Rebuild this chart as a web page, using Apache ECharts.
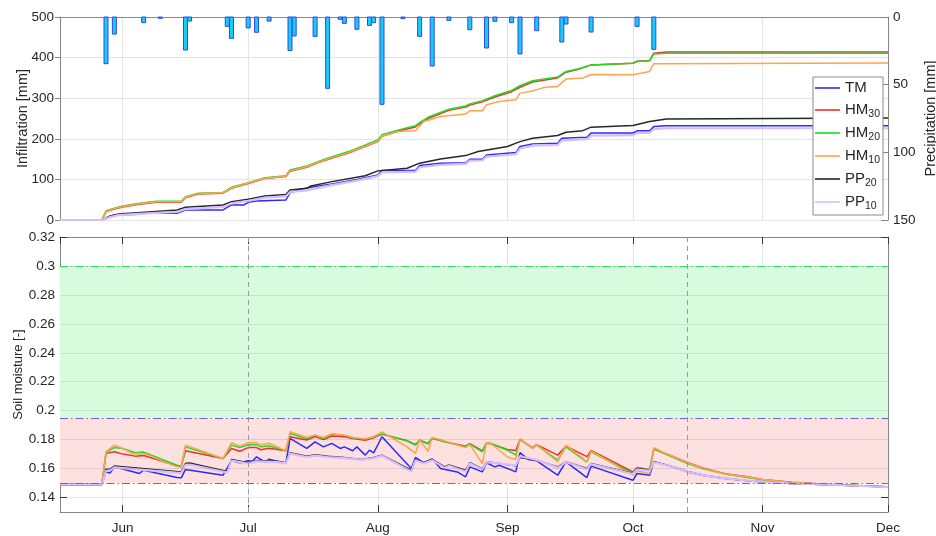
<!DOCTYPE html>
<html>
<head>
<meta charset="utf-8">
<script src="https://cdn.jsdelivr.net/npm/echarts@6/dist/echarts.min.js"></script>
<style>
  html, body { margin: 0; padding: 0; background: #fff; }
  #chart { width: 936px; height: 536px; }
</style>
</head>
<body>
<div id="chart"></div>
<script>
// ---- time range and tick values ----
const xStart = '2019-05-17';
const xEnd = '2019-12-01';
const monthNames = ['Jan','Feb','Mar','Apr','May','Jun','Jul','Aug','Sep','Oct','Nov','Dec'];
const infilTicks = [0, 100, 200, 300, 400, 500];
const precipTicks = [0, 50, 100, 150];
const moistureTicks = [0.14, 0.16, 0.18, 0.2, 0.22, 0.24, 0.26, 0.28, 0.3, 0.32];
const markerDates = ['2019-07-01', '2019-10-14'];
const greenZone = [0.195, 0.3];
const redZone = [0.15, 0.195];
const thresholdLevels = [0.3, 0.195, 0.15];

// ---- daily precipitation [mm] ----
const precipDates = ['2019-05-28','2019-05-30','2019-06-06','2019-06-10','2019-06-16','2019-06-17',
  '2019-06-26','2019-06-27','2019-07-01','2019-07-03','2019-07-06','2019-07-11','2019-07-12',
  '2019-07-17','2019-07-20','2019-07-23','2019-07-24','2019-07-27','2019-07-30','2019-07-31',
  '2019-08-02','2019-08-07','2019-08-11','2019-08-14','2019-08-18','2019-08-23','2019-08-27',
  '2019-08-29','2019-09-02','2019-09-04','2019-09-08','2019-09-14','2019-09-15','2019-09-21',
  '2019-10-02','2019-10-06'];
const precipMm = [34.5,12.6,4.2,1.0,24.4,3.0,6.9,15.8,8.1,11.3,3.0,24.8,14.0,14.3,52.7,1.7,4.7,9.1,
  6.2,4.2,64.5,1.2,14.3,36.2,2.5,9.4,22.9,3.2,4.2,27.3,10.1,18.5,5.2,11.1,6.9,23.9];

// ---- cumulative infiltration [mm] ----
const infilTM = [['2019-05-17',0],['2019-05-27',0],['2019-05-29',8],['2019-05-30',12.3],['2019-06-05',14],
  ['2019-06-06',16.4],['2019-06-14',16.4],['2019-06-16',24.7],['2019-06-25',24.7],['2019-06-27',37],
  ['2019-06-30',37],['2019-07-01',43.6],['2019-07-03',47],['2019-07-10',49],['2019-07-11',67],
  ['2019-07-13',74],['2019-07-16',80.6],['2019-07-21',89],['2019-07-27',100],['2019-08-01',111],
  ['2019-08-02',121.7],['2019-08-10',121.7],['2019-08-11',134],['2019-08-16',140],['2019-08-22',141],
  ['2019-08-23',149.7],['2019-08-26',149.7],['2019-08-27',160],['2019-09-03',166],['2019-09-04',181],
  ['2019-09-07',187.5],['2019-09-13',189],['2019-09-14',201.5],['2019-09-20',204],['2019-09-21',214],
  ['2019-10-01',214],['2019-10-02',219.6],['2019-10-05',219.6],['2019-10-06',230],['2019-10-09',232],
  ['2019-12-01',232]];
const infilHM30 = [['2019-05-17',0],['2019-05-27',0],['2019-05-28',20],['2019-05-30',27],['2019-06-01',32],
  ['2019-06-05',39],['2019-06-09',44],['2019-06-15',44],['2019-06-16',55],['2019-06-19',64],
  ['2019-06-25',66],['2019-06-27',78],['2019-07-01',90],['2019-07-05',102],['2019-07-10',107],
  ['2019-07-11',120],['2019-07-15',130],['2019-07-18',142],['2019-07-20',149],['2019-07-25',165],
  ['2019-08-01',193],['2019-08-02',206],['2019-08-06',219],['2019-08-10',229],['2019-08-11',237],
  ['2019-08-13',250],['2019-08-18',270],['2019-08-22',278],['2019-08-23',283],['2019-08-26',291],
  ['2019-08-29',303],['2019-09-02',316],['2019-09-04',327],['2019-09-07',340],['2019-09-13',350],
  ['2019-09-15',364],['2019-09-18',371],['2019-09-21',382],['2019-10-01',386],['2019-10-02',391],
  ['2019-10-05',393],['2019-10-06',411],['2019-10-09',414],['2019-12-01',414]];
const infilHM20 = [['2019-05-17',0],['2019-05-27',0],['2019-05-28',23],['2019-05-30',29],['2019-06-01',34.5],
  ['2019-06-05',41],['2019-06-09',46],['2019-06-15',46],['2019-06-16',57.5],['2019-06-19',66],
  ['2019-06-25',68],['2019-06-27',80.6],['2019-07-01',92],['2019-07-05',104],['2019-07-10',109],
  ['2019-07-11',123],['2019-07-15',133],['2019-07-18',145],['2019-07-20',152],['2019-07-25',168.5],
  ['2019-08-01',197],['2019-08-02',210],['2019-08-06',222],['2019-08-10',232],['2019-08-11',240],
  ['2019-08-13',253],['2019-08-18',273],['2019-08-22',281],['2019-08-23',286],['2019-08-26',294],
  ['2019-08-29',306],['2019-09-02',319],['2019-09-04',330.6],['2019-09-07',343],['2019-09-13',352],
  ['2019-09-15',366],['2019-09-18',372.5],['2019-09-21',382],['2019-10-01',386],['2019-10-02',390.5],
  ['2019-10-05',392],['2019-10-06',409],['2019-10-09',411],['2019-12-01',411]];
const infilHM10 = [['2019-05-17',0],['2019-05-27',0],['2019-05-28',21],['2019-05-30',28],['2019-06-01',33],
  ['2019-06-05',40],['2019-06-09',45],['2019-06-15',45],['2019-06-16',56],['2019-06-19',65],
  ['2019-06-25',67],['2019-06-27',79],['2019-07-01',91],['2019-07-05',103],['2019-07-10',108],
  ['2019-07-11',121],['2019-07-15',131],['2019-07-18',143],['2019-07-20',150],['2019-07-25',166],
  ['2019-08-01',194],['2019-08-02',207],['2019-08-06',218],['2019-08-10',219.6],['2019-08-12',242.5],
  ['2019-08-16',255],['2019-08-22',261],['2019-08-23',269],['2019-08-26',269],['2019-08-27',284],
  ['2019-08-30',292],['2019-09-03',296],['2019-09-04',312.5],['2019-09-07',318],['2019-09-10',327],
  ['2019-09-13',329],['2019-09-15',347],['2019-09-19',349.6],['2019-09-21',358.5],['2019-10-01',357.7],
  ['2019-10-05',366],['2019-10-06',385],['2019-12-01',386.6]];
const infilPP20 = [['2019-05-17',0],['2019-05-27',0],['2019-05-29',9.9],['2019-05-31',14.8],['2019-06-08',20.5],
  ['2019-06-14',24.7],['2019-06-16',31.3],['2019-06-25',37],['2019-06-27',45],['2019-07-01',51],
  ['2019-07-05',59],['2019-07-10',63],['2019-07-11',74],['2019-07-15',78],['2019-07-16',84],
  ['2019-07-21',94.5],['2019-07-29',109],['2019-08-01',121],['2019-08-08',127.5],['2019-08-11',140],
  ['2019-08-16',150.5],['2019-08-22',158.6],['2019-08-25',168.5],['2019-09-01',181],['2019-09-04',193],
  ['2019-09-07',201.5],['2019-09-13',208],['2019-09-15',216],['2019-09-19',220],['2019-09-21',228.7],
  ['2019-10-01',232.7],['2019-10-05',242.5],['2019-10-09',249],['2019-12-01',251]];
const infilPP10 = [['2019-05-17',0],['2019-05-27',0],['2019-05-29',7],['2019-05-31',12],['2019-06-08',17],
  ['2019-06-14',20],['2019-06-16',27],['2019-06-25',32],['2019-06-27',41],['2019-07-01',47],
  ['2019-07-05',55],['2019-07-10',58],['2019-07-11',69],['2019-07-15',73],['2019-07-21',86],
  ['2019-07-27',97],['2019-08-01',108],['2019-08-02',117],['2019-08-10',119],['2019-08-11',130],
  ['2019-08-16',136],['2019-08-22',138],['2019-08-23',146],['2019-08-26',147],['2019-08-27',156],
  ['2019-09-03',162],['2019-09-04',176],['2019-09-07',183],['2019-09-13',185],['2019-09-14',196],
  ['2019-09-20',199],['2019-09-21',208],['2019-10-01',209],['2019-10-02',214],['2019-10-05',215],
  ['2019-10-06',224],['2019-10-09',226],['2019-12-01',226]];

// ---- soil moisture [-] ----
const smTM = [['2019-05-17',0.149],['2019-05-27',0.149],['2019-05-28',0.1577],['2019-05-29',0.157],
  ['2019-05-30',0.1612],['2019-06-05',0.1566],['2019-06-06',0.1589],['2019-06-14',0.1538],['2019-06-15',0.1536],
  ['2019-06-16',0.1594],['2019-06-25',0.1554],['2019-06-27',0.1654],['2019-06-29',0.164],['2019-07-01',0.1654],
  ['2019-07-02',0.165],['2019-07-03',0.1681],['2019-07-05',0.1647],['2019-07-06',0.1665],['2019-07-10',0.1635],
  ['2019-07-11',0.1808],['2019-07-15',0.1739],['2019-07-17',0.1785],['2019-07-19',0.175],['2019-07-21',0.1774],
  ['2019-07-23',0.1739],['2019-07-24',0.175],['2019-07-26',0.1723],['2019-07-27',0.175],['2019-07-29',0.1693],
  ['2019-07-30',0.1727],['2019-07-31',0.1709],['2019-08-02',0.182],['2019-08-09',0.16],['2019-08-10',0.1677],
  ['2019-08-12',0.164],['2019-08-14',0.1667],['2019-08-16',0.16],['2019-08-20',0.1577],['2019-08-22',0.1543],
  ['2019-08-23',0.1612],['2019-08-26',0.1577],['2019-08-27',0.164],['2019-08-29',0.1612],['2019-08-30',0.1623],
  ['2019-09-02',0.1589],['2019-09-03',0.1577],['2019-09-04',0.171],['2019-09-06',0.1663],['2019-09-08',0.1654],
  ['2019-09-13',0.1554],['2019-09-15',0.1647],['2019-09-20',0.1538],['2019-09-21',0.1617],['2019-10-01',0.1519],
  ['2019-10-02',0.1566],['2019-10-05',0.1554],['2019-10-06',0.1647],['2019-10-10',0.1617],['2019-10-14',0.1577],
  ['2019-10-18',0.1552],['2019-10-23',0.1531],['2019-10-28',0.1517],['2019-11-01',0.1508],['2019-11-08',0.1497],
  ['2019-11-15',0.149],['2019-11-22',0.1483],['2019-12-01',0.1473]];
const smHM30 = [['2019-05-17',0.149],['2019-05-27',0.149],['2019-05-28',0.1705],['2019-05-30',0.1716],
  ['2019-06-01',0.170],['2019-06-04',0.1686],['2019-06-06',0.169],['2019-06-14',0.162],['2019-06-15',0.1617],
  ['2019-06-16',0.1723],['2019-06-25',0.167],['2019-06-27',0.1739],['2019-06-29',0.172],['2019-07-01',0.1745],
  ['2019-07-03',0.1745],['2019-07-04',0.173],['2019-07-06',0.174],['2019-07-10',0.1723],['2019-07-11',0.182],
  ['2019-07-15',0.1797],['2019-07-17',0.1822],['2019-07-19',0.18],['2019-07-21',0.1825],['2019-07-24',0.182],
  ['2019-07-26',0.1808],['2019-07-29',0.1795],['2019-07-31',0.1813],['2019-08-02',0.1838],['2019-08-08',0.1792],
  ['2019-08-10',0.1765],['2019-08-11',0.1795],['2019-08-13',0.1772],['2019-08-14',0.181],['2019-08-17',0.1785],
  ['2019-08-22',0.1755],['2019-08-23',0.1772],['2019-08-26',0.1722],['2019-08-27',0.1775],['2019-08-28',0.1772],
  ['2019-09-01',0.1732],['2019-09-03',0.1725],['2019-09-04',0.180],['2019-09-07',0.1745],['2019-09-08',0.1765],
  ['2019-09-13',0.1693],['2019-09-15',0.1755],['2019-09-20',0.1683],['2019-09-21',0.1725],['2019-10-01',0.1577],
  ['2019-10-02',0.1607],['2019-10-05',0.1592],['2019-10-06',0.1735],['2019-10-08',0.1712],['2019-10-10',0.169],
  ['2019-10-14',0.1642],['2019-10-18',0.1603],['2019-10-23',0.1565],['2019-10-28',0.1545],['2019-11-01',0.1525],
  ['2019-11-08',0.1505],['2019-11-15',0.1493],['2019-11-22',0.1485],['2019-12-01',0.1474]];
const smHM20 = [['2019-05-17',0.149],['2019-05-27',0.149],['2019-05-28',0.171],['2019-05-30',0.1746],
  ['2019-06-01',0.1739],['2019-06-04',0.1709],['2019-06-06',0.1714],['2019-06-14',0.1623],['2019-06-15',0.1617],
  ['2019-06-16',0.175],['2019-06-25',0.167],['2019-06-27',0.1762],['2019-06-29',0.1745],['2019-07-01',0.1765],
  ['2019-07-03',0.1765],['2019-07-04',0.175],['2019-07-06',0.1757],['2019-07-10',0.1723],['2019-07-11',0.1842],
  ['2019-07-15',0.1808],['2019-07-17',0.1831],['2019-07-19',0.1808],['2019-07-21',0.1838],['2019-07-24',0.1831],
  ['2019-07-26',0.1815],['2019-07-29',0.1801],['2019-07-31',0.182],['2019-08-02',0.1838],['2019-08-08',0.1792],
  ['2019-08-10',0.1762],['2019-08-11',0.1797],['2019-08-13',0.1774],['2019-08-14',0.181],['2019-08-17',0.1785],
  ['2019-08-22',0.175],['2019-08-23',0.1769],['2019-08-26',0.1716],['2019-08-27',0.1778],['2019-08-28',0.1775],
  ['2019-09-01',0.1727],['2019-09-03',0.1693],['2019-09-04',0.1801],['2019-09-07',0.1739],['2019-09-08',0.1762],
  ['2019-09-13',0.1658],['2019-09-15',0.175],['2019-09-20',0.1645],['2019-09-21',0.1716],['2019-10-01',0.1566],
  ['2019-10-02',0.1607],['2019-10-05',0.1589],['2019-10-06',0.1739],['2019-10-08',0.171],['2019-10-10',0.1685],
  ['2019-10-14',0.1635],['2019-10-18',0.1597],['2019-10-23',0.1562],['2019-10-28',0.154],['2019-11-01',0.1522],
  ['2019-11-08',0.1503],['2019-11-15',0.1492],['2019-11-22',0.1484],['2019-12-01',0.1474]];
const smHM10 = [['2019-05-17',0.149],['2019-05-27',0.149],['2019-05-28',0.1716],['2019-05-30',0.1762],
  ['2019-06-01',0.1739],['2019-06-04',0.1693],['2019-06-06',0.1705],['2019-06-14',0.1612],['2019-06-15',0.161],
  ['2019-06-16',0.1762],['2019-06-25',0.167],['2019-06-27',0.1778],['2019-06-29',0.1755],['2019-07-01',0.1778],
  ['2019-07-03',0.1778],['2019-07-04',0.1765],['2019-07-06',0.1775],['2019-07-10',0.1723],['2019-07-11',0.1854],
  ['2019-07-15',0.1815],['2019-07-17',0.1831],['2019-07-19',0.1815],['2019-07-21',0.184],['2019-07-24',0.1831],
  ['2019-07-26',0.1815],['2019-07-29',0.1805],['2019-07-31',0.182],['2019-08-02',0.1854],['2019-08-08',0.175],
  ['2019-08-10',0.1705],['2019-08-11',0.1797],['2019-08-13',0.172],['2019-08-14',0.1815],['2019-08-17',0.179],
  ['2019-08-22',0.1745],['2019-08-23',0.1765],['2019-08-26',0.1635],['2019-08-27',0.1778],['2019-08-28',0.1775],
  ['2019-09-01',0.168],['2019-09-03',0.1663],['2019-09-04',0.1805],['2019-09-07',0.174],['2019-09-08',0.1765],
  ['2019-09-13',0.1647],['2019-09-15',0.1762],['2019-09-20',0.1647],['2019-09-21',0.1723],['2019-10-01',0.1554],
  ['2019-10-02',0.1585],['2019-10-05',0.1565],['2019-10-06',0.1745],['2019-10-08',0.1715],['2019-10-10',0.169],
  ['2019-10-14',0.164],['2019-10-18',0.160],['2019-10-23',0.1563],['2019-10-28',0.1543],['2019-11-01',0.1524],
  ['2019-11-08',0.1504],['2019-11-15',0.1492],['2019-11-22',0.1485],['2019-12-01',0.1474]];
const smPP20 = [['2019-05-17',0.149],['2019-05-27',0.149],['2019-05-28',0.1595],['2019-05-29',0.1597],
  ['2019-05-30',0.1617],['2019-06-15',0.1577],['2019-06-16',0.1635],['2019-06-17',0.1638],['2019-06-26',0.158],
  ['2019-06-27',0.1663],['2019-07-01',0.164],['2019-07-03',0.1655],['2019-07-08',0.165],['2019-07-10',0.164],
  ['2019-07-11',0.1709],['2019-07-15',0.1686],['2019-07-17',0.1695],['2019-07-20',0.1686],['2019-07-24',0.1677],
  ['2019-07-28',0.1663],['2019-07-31',0.1677],['2019-08-02',0.1693],['2019-08-09',0.1589],['2019-08-10',0.1663],
  ['2019-08-12',0.164],['2019-08-14',0.1663],['2019-08-17',0.1612],['2019-08-18',0.1625],['2019-08-22',0.1589],
  ['2019-08-23',0.164],['2019-08-26',0.16],['2019-08-27',0.1647],['2019-09-02',0.1623],['2019-09-03',0.162],
  ['2019-09-04',0.1677],['2019-09-08',0.1658],['2019-09-13',0.1612],['2019-09-15',0.1647],['2019-09-20',0.16],
  ['2019-09-21',0.1635],['2019-10-01',0.1566],['2019-10-02',0.16],['2019-10-05',0.1589],['2019-10-06',0.1647],
  ['2019-10-10',0.1617],['2019-10-14',0.158],['2019-10-18',0.1554],['2019-10-23',0.1533],['2019-10-28',0.1518],
  ['2019-11-01',0.1509],['2019-11-08',0.1497],['2019-11-15',0.149],['2019-11-22',0.1483],['2019-12-01',0.1473]];
const smPP10 = [['2019-05-17',0.149],['2019-05-27',0.149],['2019-05-28',0.1585],['2019-05-29',0.1588],
  ['2019-05-30',0.1608],['2019-06-15',0.1568],['2019-06-16',0.1625],['2019-06-17',0.1628],['2019-06-26',0.1572],
  ['2019-06-27',0.1655],['2019-07-01',0.1635],['2019-07-03',0.165],['2019-07-08',0.1645],['2019-07-10',0.1637],
  ['2019-07-11',0.1703],['2019-07-15',0.168],['2019-07-17',0.169],['2019-07-20',0.168],['2019-07-24',0.1672],
  ['2019-07-28',0.166],['2019-07-31',0.1672],['2019-08-02',0.1688],['2019-08-09',0.158],['2019-08-10',0.1657],
  ['2019-08-12',0.1635],['2019-08-14',0.1658],['2019-08-17',0.1605],['2019-08-18',0.162],['2019-08-22',0.158],
  ['2019-08-23',0.1635],['2019-08-26',0.1595],['2019-08-27',0.1645],['2019-09-02',0.1625],['2019-09-03',0.1622],
  ['2019-09-04',0.1685],['2019-09-08',0.166],['2019-09-13',0.1605],['2019-09-15',0.1645],['2019-09-20',0.1595],
  ['2019-09-21',0.1632],['2019-10-01',0.1562],['2019-10-02',0.1595],['2019-10-05',0.1585],['2019-10-06',0.1643],
  ['2019-10-10',0.1615],['2019-10-14',0.1578],['2019-10-18',0.1553],['2019-10-23',0.1532],['2019-10-28',0.1518],
  ['2019-11-01',0.1509],['2019-11-08',0.1497],['2019-11-15',0.149],['2019-11-22',0.1483],['2019-12-01',0.1472]];

// ---- series styling ----
const seriesNames = ['TM', 'HM30', 'HM20', 'HM10', 'PP20', 'PP10'];
const seriesColors = ['#2b2bff', '#f42f2f', '#1fdc1f', '#ffa34f', '#262626', '#d7bcff'];
const seriesWidths = [1.5, 1.5, 1.5, 1.5, 1.5, 2.2];
const infilData = [infilTM, infilHM30, infilHM20, infilHM10, infilPP20, infilPP10];
const smData = [smTM, smHM30, smHM20, smHM10, smPP20, smPP10];

const FONT = '"Liberation Sans", Arial, Helvetica, sans-serif';
const AXIS_COLOR = '#868686';
const TICK_COLOR = '#3a3a3a';
const LABEL_COLOR = '#262626';
const GRID_COLOR = '#e4e4e4';
const DAY = 86400000;

const monthFormatter = v => monthNames[new Date(v).getMonth()];

const chart = echarts.init(document.getElementById('chart'), null, { renderer: 'canvas' });

function timeAxis(gridIndex, opts) {
  return Object.assign({
    type: 'time', gridIndex, min: xStart, max: xEnd,
    minInterval: 28 * DAY, maxInterval: 31 * DAY,
    axisLabel: { show: false },
    axisTick: { show: false },
    axisLine: { show: false },
    splitLine: { show: false }
  }, opts);
}

const series = [];

// precipitation bars hanging from the top of the upper panel (inverted right axis)
series.push({
  name: 'Precipitation', type: 'custom', xAxisIndex: 0, yAxisIndex: 1,
  data: precipDates.map((d, i) => [d, precipMm[i]]),
  encode: { x: 0, y: 1 },
  z: 1,
  renderItem: (params, api) => {
    const top = api.coord([api.value(0), 0]);
    const bottom = api.coord([api.value(0), api.value(1)]);
    return {
      type: 'rect',
      shape: { x: top[0] - 2, y: top[1], width: 4, height: bottom[1] - top[1] },
      style: { fill: '#17cdf7', stroke: '#2c49e6', lineWidth: 1 }
    };
  }
});

// cumulative infiltration curves
seriesNames.forEach((n, i) => {
  series.push({
    name: n, type: 'line', xAxisIndex: 0, yAxisIndex: 0,
    symbol: 'none', showSymbol: false,
    lineStyle: { color: seriesColors[i], width: seriesWidths[i] },
    itemStyle: { color: seriesColors[i] },
    data: infilData[i], z: 3
  });
});

// moisture zones, grid lines, thresholds and event markers on the lower panel
const dashDot = [8, 3, 1.5, 3];
series.push({
  name: 'zones', type: 'line', xAxisIndex: 2, yAxisIndex: 2,
  data: [], silent: true, z: 1,
  markArea: {
    silent: true,
    itemStyle: { opacity: 1 },
    data: [
      [{ yAxis: greenZone[0], itemStyle: { color: '#d6fbdd' } }, { yAxis: greenZone[1] }],
      [{ yAxis: redZone[0], itemStyle: { color: '#fde0e0' } }, { yAxis: redZone[1] }]
    ]
  },
  markLine: {
    silent: true, symbol: 'none', label: { show: false }, precision: 4,
    data: moistureTicks.slice(0, -1).map(v => ({
      yAxis: v, lineStyle: { color: 'rgba(0,0,0,0.09)', width: 1, type: 'solid' }
    }))
  }
});
series.push({
  name: 'thresholds', type: 'line', xAxisIndex: 2, yAxisIndex: 2,
  data: [], silent: true, z: 2,
  markLine: {
    silent: true, symbol: 'none', label: { show: false }, precision: 4,
    data: [
      { yAxis: thresholdLevels[0], lineStyle: { color: '#2fe05a', width: 1.2, type: dashDot } },
      { yAxis: thresholdLevels[1], lineStyle: { color: '#6a62e0', width: 1.2, type: dashDot } },
      { yAxis: thresholdLevels[2], lineStyle: { color: '#ec3f3f', width: 1.2, type: dashDot } }
    ].concat(markerDates.map(d => ({
      xAxis: d, lineStyle: { color: '#9a9a9a', width: 1, type: [5, 4] }
    })))
  }
});

// soil moisture curves
seriesNames.forEach((n, i) => {
  series.push({
    name: n + '_sm', type: 'line', xAxisIndex: 2, yAxisIndex: 2,
    symbol: 'none', showSymbol: false,
    lineStyle: { color: seriesColors[i], width: seriesWidths[i] },
    data: smData[i], z: 3
  });
});

const option = {
  animation: false,
  backgroundColor: '#ffffff',
  textStyle: { fontFamily: FONT },
  grid: [
    { left: 60, top: 17, width: 828, height: 203, containLabel: false, outerBoundsMode: 'none' },
    { left: 60, top: 237, width: 828, height: 275, containLabel: false, outerBoundsMode: 'none' }
  ],
  legend: {
    data: seriesNames,
    orient: 'vertical',
    left: 813, top: 77,
    padding: [2, 3, 3, 2],
    itemGap: 3,
    itemWidth: 25, itemHeight: 14,
    backgroundColor: '#ffffff',
    borderColor: '#8a8a8a', borderWidth: 1,
    textStyle: {
      fontFamily: FONT, fontSize: 15, color: LABEL_COLOR, lineHeight: 18,
      rich: { sub: { fontFamily: FONT, fontSize: 10.5, color: LABEL_COLOR, padding: [9, 0, 0, 0], lineHeight: 12 } }
    },
    formatter: n => n.replace(/(\d+)$/, '{sub|$1}'),
    icon: 'path://M0,0H25V1.6H0Z'
  },
  xAxis: [
    timeAxis(0, { splitLine: { show: true, lineStyle: { color: GRID_COLOR } } }),
    timeAxis(0, { position: 'top', axisLine: { show: true, onZero: false, lineStyle: { color: '#7f7fe4', width: 1 } } }),
    timeAxis(1, {
      axisLine: { show: true, onZero: false, lineStyle: { color: AXIS_COLOR } },
      axisTick: { show: true, inside: true, length: 7, lineStyle: { color: TICK_COLOR } },
      axisLabel: { show: true, formatter: monthFormatter, color: LABEL_COLOR, fontSize: 13.5, margin: 9,
        fontFamily: FONT, showMinLabel: false, showMaxLabel: true },
      splitLine: { show: true, lineStyle: { color: GRID_COLOR } }
    }),
    timeAxis(1, {
      position: 'top',
      axisLine: { show: true, onZero: false, lineStyle: { color: AXIS_COLOR } },
      axisTick: { show: true, inside: true, length: 7, lineStyle: { color: TICK_COLOR } }
    })
  ],
  yAxis: [
    {
      type: 'value', gridIndex: 0, min: infilTicks[0], max: infilTicks[infilTicks.length - 1], interval: 100,
      name: 'Infiltration [mm]', nameLocation: 'middle', nameGap: 30, nameMoveOverlap: false,
      nameTextStyle: { fontSize: 14.5, color: LABEL_COLOR, fontFamily: FONT },
      axisLine: { show: true, lineStyle: { color: AXIS_COLOR } },
      axisTick: { show: true, inside: false, length: 5, lineStyle: { color: AXIS_COLOR } },
      axisLabel: { color: LABEL_COLOR, fontSize: 13.5, margin: 6, fontFamily: FONT },
      splitLine: { show: true, lineStyle: { color: GRID_COLOR } }
    },
    {
      type: 'value', gridIndex: 0, position: 'right', inverse: true,
      min: precipTicks[0], max: precipTicks[precipTicks.length - 1], interval: 50,
      name: 'Precipitation [mm]', nameLocation: 'middle', nameGap: 35, nameRotate: 90, nameMoveOverlap: false,
      nameTextStyle: { fontSize: 14.5, color: LABEL_COLOR, fontFamily: FONT },
      axisLine: { show: true, lineStyle: { color: AXIS_COLOR } },
      axisTick: { show: true, inside: true, length: 7, lineStyle: { color: AXIS_COLOR } },
      axisLabel: { color: LABEL_COLOR, fontSize: 13.5, margin: 5, fontFamily: FONT },
      splitLine: { show: false }
    },
    {
      type: 'value', gridIndex: 1, min: 0.13, max: 0.32,
      name: 'Soil moisture [-]', nameLocation: 'middle', nameGap: 35, nameMoveOverlap: false,
      nameTextStyle: { fontSize: 13, color: LABEL_COLOR, fontFamily: FONT },
      axisLine: { show: true, lineStyle: { color: AXIS_COLOR } },
      axisTick: { show: true, inside: true, length: 7, customValues: moistureTicks, lineStyle: { color: TICK_COLOR } },
      axisLabel: { color: LABEL_COLOR, fontSize: 13.5, margin: 5, fontFamily: FONT, customValues: moistureTicks,
        formatter: v => String(+v.toFixed(2)) },
      splitLine: { show: false }
    },
    {
      type: 'value', gridIndex: 1, position: 'right', min: 0.13, max: 0.32,
      axisLine: { show: true, lineStyle: { color: AXIS_COLOR } },
      axisTick: { show: true, inside: true, length: 7, customValues: moistureTicks, lineStyle: { color: TICK_COLOR } },
      axisLabel: { show: false, customValues: moistureTicks },
      splitLine: { show: false }
    }
  ],
  series
};

chart.setOption(option);
</script>
</body>
</html>
